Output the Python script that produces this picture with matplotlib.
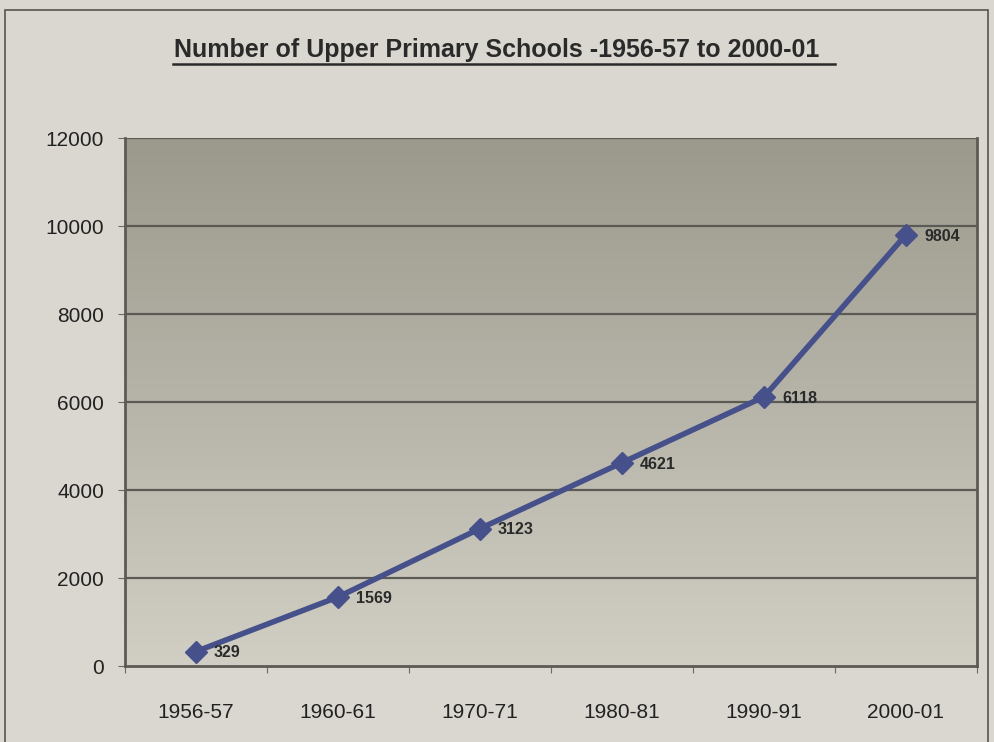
import numpy as np
import matplotlib.pyplot as plt
from matplotlib.patches import Rectangle

years = ["1956-57", "1960-61", "1970-71", "1980-81", "1990-91", "2000-01"]
schools = [329, 1569, 3123, 4621, 6118, 9804]
yticks = [0, 2000, 4000, 6000, 8000, 10000, 12000]

fig = plt.figure(figsize=(9.94, 7.42), dpi=100)
fig.patch.set_facecolor("#d9d7cf")

# outer chart border
fig.patches.append(Rectangle((5 / 994, -0.01), 983 / 994, 1 - 10 / 742 + 0.01,
                             transform=fig.transFigure, fill=False,
                             edgecolor="#55554f", linewidth=1.2))

ax = fig.add_axes([125 / 994, 1 - 666 / 742, 852 / 994, 528 / 742])
x = np.arange(len(years))
ax.set_xlim(-0.5, len(years) - 0.5)
ax.set_ylim(0, 12000)

# plot area gradient, dark at top, lighter at bottom
grad = np.linspace(0, 1, 256).reshape(-1, 1)
top = np.array([0.61, 0.60, 0.55])
bot = np.array([0.82, 0.81, 0.77])
img = top + (bot - top) * grad[:, :, None] * np.ones((1, 1, 3))
ax.imshow(img, extent=[-0.5, len(years) - 0.5, 0, 12000], aspect="auto", zorder=0)

for yv in yticks[1:]:
    ax.axhline(yv, color="#5b5a55", linewidth=1.6, zorder=1)

ax.plot(x, schools, color="#46508a", linewidth=4, marker="D", markersize=11,
        markerfacecolor="#46508a", markeredgecolor="#46508a", zorder=3)
for xi, v in zip(x, schools):
    ax.annotate(str(v), (xi, v), xytext=(13, -1), textcoords="offset points",
                fontsize=11.5, fontweight="bold", color="#2a2a2a",
                family="Liberation Sans", va="center", ha="left", zorder=4)

ax.set_xticks(np.arange(len(years) + 1) - 0.5, minor=False)
ax.set_xticklabels([])
ax.set_xticks(x, minor=True)
ax.set_xticklabels(years, minor=True, fontsize=15, family="Liberation Sans", color="#222222")
ax.tick_params(axis="x", which="minor", length=0, pad=27)
ax.tick_params(axis="x", which="major", length=5, color="#6a6a66")
ax.set_yticks(yticks)
ax.set_yticklabels([str(t) for t in yticks], fontsize=15, family="Liberation Sans", color="#222222")
ax.tick_params(axis="y", length=5, color="#6a6a66", pad=10)

for side in ["left", "bottom", "right"]:
    ax.spines[side].set_color("#5b5a55")
    ax.spines[side].set_linewidth(2)
ax.spines["top"].set_visible(False)

fig.text(0.5, 1 - 50 / 742, "Number of Upper Primary Schools -1956-57 to 2000-01",
         ha="center", va="center", fontsize=18, fontweight="bold",
         family="Liberation Sans", color="#2a2a2a")
fig.add_artist(plt.Line2D([173 / 994, 835 / 994], [1 - 64 / 742, 1 - 64 / 742],
                          color="#2a2a2a", linewidth=1.8))

fig.savefig("out.png", dpi=100, facecolor=fig.get_facecolor())
